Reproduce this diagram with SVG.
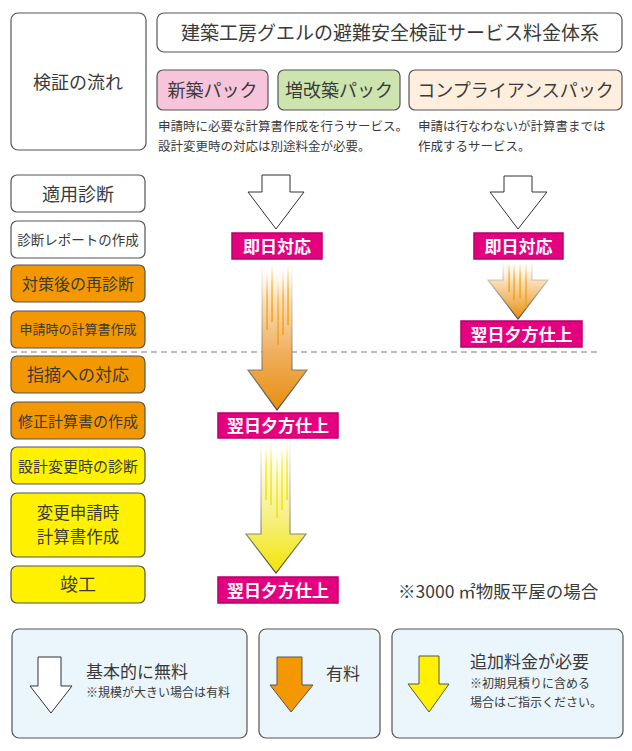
<svg xmlns="http://www.w3.org/2000/svg" width="632" height="751" viewBox="0 0 632 751">
<defs>
<style>
text{font-family:"Noto Sans CJK JP","Noto Sans",sans-serif;fill:#3a3a3a}
.box{stroke:#555;stroke-width:1.2}
.w{fill:#fff}.o{fill:#F39800}.y{fill:#FFF100}
.c{text-anchor:middle}
.lbl rect{fill:#E4007F;stroke:#B5006A;stroke-width:1.5}
.lbl text{fill:#fff;font-weight:bold;font-size:17px;text-anchor:middle}
.warrow{fill:#fff;stroke:#333;stroke-width:1}
.leg{fill:#EAF5FC;stroke:#555;stroke-width:1.2}
.desc{font-size:12.5px}
.so{fill:url(#sO)}.sy{fill:url(#sY)}
</style>
<linearGradient id="gO" x1="0" y1="0" x2="0" y2="1">
<stop offset="0" stop-color="#fff" stop-opacity="0"/>
<stop offset="0.25" stop-color="#FBE0BC"/>
<stop offset="0.6" stop-color="#F0B060"/>
<stop offset="1" stop-color="#E88E0E"/>
</linearGradient>
<linearGradient id="gOs" x1="0" y1="0" x2="0" y2="1">
<stop offset="0" stop-color="#888" stop-opacity="0"/>
<stop offset="0.4" stop-color="#999" stop-opacity="0.6"/>
<stop offset="1" stop-color="#444"/>
</linearGradient>
<linearGradient id="gY" x1="0" y1="0" x2="0" y2="1">
<stop offset="0" stop-color="#fff" stop-opacity="0"/>
<stop offset="0.3" stop-color="#FBF8C8"/>
<stop offset="0.65" stop-color="#F5EE70"/>
<stop offset="1" stop-color="#F2E500"/>
</linearGradient>
<linearGradient id="gRO" x1="0" y1="0" x2="0" y2="1">
<stop offset="0" stop-color="#fff" stop-opacity="0"/>
<stop offset="0.35" stop-color="#FBE0BC"/>
<stop offset="1" stop-color="#E88E0E"/>
</linearGradient>
<linearGradient id="sO" x1="0" y1="0" x2="0" y2="1">
<stop offset="0" stop-color="#F2A81D" stop-opacity="0"/>
<stop offset="0.4" stop-color="#F2A81D" stop-opacity="0.8"/>
<stop offset="1" stop-color="#EFA010"/>
</linearGradient>
<linearGradient id="sY" x1="0" y1="0" x2="0" y2="1">
<stop offset="0" stop-color="#F5E900" stop-opacity="0"/>
<stop offset="0.4" stop-color="#F5E900" stop-opacity="0.8"/>
<stop offset="1" stop-color="#F0E000"/>
</linearGradient>
</defs>

<g id="header">
<rect x="11" y="13" width="135" height="137" rx="7" class="box w"/>
<text x="78" y="89" class="c" font-size="18">検証の流れ</text>
<rect x="157" y="13" width="465" height="39" rx="7" class="box w"/>
<text x="390" y="40" class="c" font-size="19">建築工房グエルの避難安全検証サービス料金体系</text>
</g>

<g id="packs">
<rect x="157" y="70" width="111" height="40" rx="6" class="box" fill="#F6C4DB"/>
<text x="212.5" y="97" class="c" font-size="18">新築パック</text>
<rect x="278" y="70" width="122" height="40" rx="6" class="box" fill="#CDE4AF"/>
<text x="339" y="97" class="c" font-size="18">増改築パック</text>
<rect x="409" y="70" width="213" height="40" rx="6" class="box" fill="#FDEEDE"/>
<text x="515.5" y="97" class="c" font-size="18">コンプライアンスパック</text>
<text x="158" y="131" class="desc">申請時に必要な計算書作成を行うサービス。</text>
<text x="158" y="151" class="desc">設計変更時の対応は別途料金が必要。</text>
<text x="418" y="131" class="desc">申請は行なわないが計算書までは</text>
<text x="418" y="151" class="desc">作成するサービス。</text>
</g>

<g id="steps">
<g id="s1"><rect x="11" y="175" width="134" height="37" rx="6" class="box w"/><text x="78" y="201" class="c" font-size="18">適用診断</text></g>
<g id="s2"><rect x="11" y="221" width="134" height="37" rx="6" class="box w"/><text x="78" y="245" class="c" font-size="13.5">診断レポートの作成</text></g>
<g id="s3"><rect x="11" y="265" width="134" height="37" rx="6" class="box o"/><text x="78" y="290" class="c" font-size="16">対策後の再診断</text></g>
<g id="s4"><rect x="11" y="311" width="134" height="37" rx="6" class="box o"/><text x="78" y="334" class="c" font-size="13">申請時の計算書作成</text></g>
<g id="s5"><rect x="11" y="356" width="134" height="37" rx="6" class="box o"/><text x="78" y="381" class="c" font-size="17">指摘への対応</text></g>
<g id="s6"><rect x="11" y="402" width="134" height="37" rx="6" class="box o"/><text x="78" y="427" class="c" font-size="15">修正計算書の作成</text></g>
<g id="s7"><rect x="11" y="447" width="134" height="37" rx="6" class="box y"/><text x="78" y="472" class="c" font-size="15">設計変更時の診断</text></g>
<g id="s8"><rect x="11" y="493" width="134" height="64" rx="6" class="box y"/><text x="78" y="519" class="c" font-size="16.5">変更申請時</text><text x="78" y="543" class="c" font-size="16.5">計算書作成</text></g>
<g id="s9"><rect x="11" y="566" width="134" height="37" rx="6" class="box y"/><text x="78" y="591" class="c" font-size="18">竣工</text></g>
</g>

<g id="connectors">
<line x1="11" y1="352" x2="600" y2="352" stroke="#AAA" stroke-width="1.5" stroke-dasharray="6,4"/>
<path d="M262,175 H290 V192 H304 L276,229 L248,192 H262 Z" class="warrow"/>
<path d="M262,262 H292 V370 H307 L277,410 L248,370 H262 Z" fill="url(#gO)" stroke="url(#gOs)" stroke-width="1.2"/>
<g class="so">
<rect x="266.3" y="272" width="1.5" height="58"/>
<rect x="271.3" y="264" width="1.5" height="58"/>
<rect x="277.3" y="280" width="1.5" height="65"/>
<rect x="282.3" y="270" width="1.5" height="65"/>
<rect x="287.3" y="264" width="1.5" height="61"/>
</g>
<path d="M261,440 H290 V534 H306 L276,573 L246,534 H261 Z" fill="url(#gY)" stroke="url(#gOs)" stroke-width="1.2"/>
<g class="sy">
<rect x="265.3" y="445" width="1.5" height="55"/>
<rect x="270.3" y="440" width="1.5" height="65"/>
<rect x="276.3" y="452" width="1.5" height="66"/>
<rect x="281.3" y="445" width="1.5" height="65"/>
<rect x="286.3" y="440" width="1.5" height="60"/>
</g>
<path d="M504,176 H532 V192 H547 L518,229 L490,192 H504 Z" class="warrow"/>
<path d="M503,260 H532 V280 H548 L518,319 L488,280 H503 Z" fill="url(#gRO)" stroke="url(#gOs)" stroke-width="1.2"/>
<g class="so">
<rect x="508.3" y="262" width="1.5" height="30"/>
<rect x="513.3" y="262" width="1.5" height="38"/>
<rect x="519.3" y="262" width="1.5" height="36"/>
<rect x="525.3" y="262" width="1.5" height="46"/>
</g>
</g>

<g id="labels">
<g class="lbl" id="l1"><rect x="232" y="233" width="90" height="26"/><text x="277" y="253">即日対応</text></g>
<g class="lbl" id="l2"><rect x="218" y="413" width="120" height="25"/><text x="278" y="432">翌日夕方仕上</text></g>
<g class="lbl" id="l3"><rect x="218" y="577" width="120" height="26"/><text x="278" y="597">翌日夕方仕上</text></g>
<g class="lbl" id="l4"><rect x="474" y="233" width="89" height="26"/><text x="518.5" y="253">即日対応</text></g>
<g class="lbl" id="l5"><rect x="461" y="321" width="121" height="26"/><text x="521.5" y="341">翌日夕方仕上</text></g>
</g>

<text x="398" y="598" font-size="17.5">※3000 ㎡物販平屋の場合</text>

<g id="legend">
<g id="leg1">
<rect x="12" y="629" width="235" height="109" rx="7" class="leg"/>
<path d="M38,657 H61 V686 H72 L51,713 L30,686 H38 Z" class="warrow"/>
<text x="86" y="678" font-size="17">基本的に無料</text>
<text x="86" y="697" font-size="12">※規模が大きい場合は有料</text>
</g>
<g id="leg2">
<rect x="259" y="629" width="121" height="109" rx="7" class="leg"/>
<path d="M277,657 H302 V685 H313 L291,712 L270,685 H277 Z" fill="#F39800" stroke="#555" stroke-width="1"/>
<text x="326" y="680" font-size="17">有料</text>
</g>
<g id="leg3">
<rect x="392" y="629" width="231" height="109" rx="7" class="leg"/>
<path d="M419,656 H439 V684 H449 L429,712 L408,684 H419 Z" fill="#FFF100" stroke="#555" stroke-width="1"/>
<text x="470" y="668" font-size="17">追加料金が必要</text>
<text x="470" y="688" font-size="12">※初期見積りに含める</text>
<text x="470" y="707" font-size="12">場合はご指示ください。</text>
</g>
</g>
</svg>
